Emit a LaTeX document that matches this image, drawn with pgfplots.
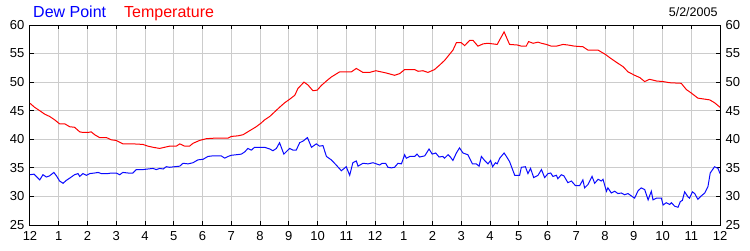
\documentclass[border=0pt]{standalone}
\usepackage{pgfplots}
\pgfplotsset{compat=1.18}
\usepackage{fontspec}
\setmainfont{Liberation Sans}
\definecolor{dp}{RGB}{10,10,255}
\definecolor{tp}{RGB}{255,0,0}
\definecolor{gridc}{RGB}{204,204,204}
\begin{document}
\begin{tikzpicture}[x=1bp,y=1bp]
\useasboundingbox (-30,-25) rectangle (720,225);
\begin{axis}[
  at={(0,0)}, anchor=south west,
  scale only axis, width=690bp, height=200bp,
  xmin=0, xmax=24, ymin=25, ymax=60,
  xtick={0,1,...,24},
  xticklabels={12,1,2,3,4,5,6,7,8,9,10,11,12,1,2,3,4,5,6,7,8,9,10,11,12},
  ytick={25,30,...,60},
  grid=major, major grid style={gridc, line width=1bp},
  axis line style={black, line width=1bp},
  major tick length=4bp, tick style={black, line width=1bp},
  tick align=inside,
  ticklabel style={font=\fontsize{13bp}{15bp}\selectfont, text=black},
  /pgf/number format/assume math mode=true,
  xticklabel style={yshift=-2.7bp},
  yticklabel style={xshift=-2.2bp},
  clip=true,
]
\addplot[tp, line width=1bp] coordinates {
(0,46.3)(0.16,45.6)(0.34,45.0)(0.51,44.4)(0.68,44.0)(0.86,43.4)(1.03,42.7)(1.21,42.7)
(1.38,42.2)(1.55,42.1)(1.73,41.3)(1.84,41.2)(2.02,41.2)(2.13,41.3)(2.25,40.8)(2.42,40.3)
(2.66,40.3)(2.83,39.9)(3.00,39.8)(3.23,39.2)(3.58,39.2)(3.93,39.1)(4.10,38.8)(4.28,38.6)
(4.51,38.4)(4.68,38.6)(4.86,38.8)(5.09,38.8)(5.21,39.2)(5.38,38.8)(5.55,38.8)(5.67,39.3)
(5.90,39.8)(6.13,40.1)(6.42,40.2)(6.89,40.2)(7.00,40.5)(7.23,40.6)(7.41,40.8)(7.64,41.5)
(7.87,42.2)(8.03,42.8)(8.16,43.4)(8.34,44.0)(8.51,44.8)(8.68,45.6)(8.86,46.4)(9.03,47.0)
(9.21,47.7)(9.32,48.9)(9.53,50.0)(9.67,49.5)(9.84,48.5)(9.99,48.6)(10.13,49.4)(10.31,50.2)
(10.48,50.9)(10.77,51.8)(11.06,51.8)(11.18,51.8)(11.35,52.4)(11.58,51.7)(11.81,51.7)(12.03,52.0)
(12.39,51.6)(12.68,51.2)(12.86,51.5)(13.03,52.2)(13.38,52.2)(13.50,51.9)(13.67,52.0)(13.84,51.7)
(14.07,52.2)(14.25,53.0)(14.42,53.8)(14.71,55.6)(14.83,56.9)(15.00,56.9)(15.12,56.4)(15.29,57.3)
(15.41,57.3)(15.58,56.3)(15.76,56.7)(15.93,56.8)(16.25,56.6)(16.49,58.8)(16.68,56.6)(16.95,56.5)
(17.09,56.3)(17.26,56.3)(17.34,57.1)(17.50,56.8)(17.67,57.0)(17.79,56.8)(17.96,56.6)(18.13,56.3)
(18.31,56.3)(18.54,56.6)(18.71,56.5)(18.94,56.3)(19.23,56.2)(19.41,55.6)(19.76,55.6)(20.03,54.8)
(20.16,54.3)(20.39,53.5)(20.63,52.7)(20.80,51.8)(21.03,51.2)(21.21,50.8)(21.38,50.1)(21.55,50.5)
(21.79,50.2)(22.02,50.1)(22.25,49.9)(22.65,49.8)(22.83,48.7)(23.00,48.1)(23.23,47.2)(23.64,46.9)
(23.81,46.4)(24.00,45.6)
};
\addplot[dp, line width=1bp] coordinates {
(0.00,33.8)(0.14,33.9)(0.22,33.5)(0.34,32.9)(0.45,33.8)(0.57,33.4)(0.68,33.6)(0.83,34.2)
(0.92,33.6)(1.03,32.7)(1.15,32.3)(1.26,32.8)(1.38,33.2)(1.55,33.8)(1.67,34.0)(1.73,33.5)
(1.84,34.0)(1.96,33.7)(2.08,34.0)(2.25,34.1)(2.37,34.2)(2.48,34.0)(2.71,34.0)(2.83,34.1)
(3.00,34.1)(3.12,33.8)(3.23,34.2)(3.41,34.1)(3.58,34.1)(3.70,34.7)(3.93,34.7)(4.10,34.8)
(4.28,34.9)(4.39,34.7)(4.51,34.9)(4.63,34.8)(4.74,35.2)(4.86,35.1)(5.03,35.2)(5.21,35.3)
(5.32,35.8)(5.50,35.7)(5.67,35.9)(5.84,36.4)(6.02,36.5)(6.19,37.0)(6.36,37.1)(6.65,37.1)
(6.77,36.7)(6.89,37.0)(7.00,37.2)(7.18,37.3)(7.35,37.4)(7.47,37.8)(7.58,38.4)(7.70,38.1)
(7.81,38.6)(7.93,38.6)(8.16,38.6)(8.34,38.3)(8.45,38.0)(8.57,38.4)(8.68,39.4)(8.83,37.4)
(9.03,38.4)(9.15,38.1)(9.26,38.1)(9.38,39.4)(9.50,39.7)(9.65,40.3)(9.79,38.6)(9.96,39.2)
(10.07,38.8)(10.19,38.9)(10.31,37.0)(10.48,36.4)(10.65,35.5)(10.83,34.5)(11.00,35.2)(11.12,33.7)
(11.23,35.9)(11.35,36.2)(11.41,35.3)(11.58,35.8)(11.76,35.7)(11.93,35.9)(12.05,35.7)(12.16,35.5)
(12.25,35.8)(12.37,35.8)(12.45,35.1)(12.57,35.0)(12.68,35.1)(12.80,35.8)(12.92,35.7)(13.03,37.3)
(13.09,36.7)(13.21,37.0)(13.38,37.0)(13.46,37.4)(13.55,36.9)(13.73,37.1)(13.88,38.3)(13.99,37.4)
(14.11,37.6)(14.23,36.9)(14.36,37.0)(14.42,36.7)(14.54,37.3)(14.62,36.9)(14.71,36.3)(14.83,37.6)
(14.94,38.5)(15.06,37.6)(15.23,37.3)(15.39,35.7)(15.52,35.7)(15.62,35.3)(15.70,37.0)(15.81,36.3)
(15.93,35.7)(16.02,36.3)(16.09,35.2)(16.19,35.9)(16.25,35.7)(16.34,36.7)(16.49,37.6)(16.57,37.0)
(16.68,36.1)(16.86,33.7)(17.03,33.7)(17.09,35.1)(17.23,35.2)(17.32,34.0)(17.41,34.9)(17.52,33.3)
(17.67,33.7)(17.79,34.7)(17.90,33.3)(18.02,34.0)(18.11,34.1)(18.19,33.5)(18.31,33.7)(18.36,33.1)
(18.48,33.8)(18.57,33.6)(18.71,32.4)(18.83,32.7)(18.97,31.9)(19.12,31.9)(19.23,32.9)(19.29,31.5)
(19.41,32.1)(19.55,33.5)(19.64,32.3)(19.76,33.0)(19.87,32.7)(19.93,33.0)(20.05,30.9)(20.10,31.5)
(20.22,30.6)(20.34,30.9)(20.45,30.5)(20.57,30.6)(20.68,30.3)(20.80,30.5)(20.97,29.9)(21.03,29.7)
(21.15,31.0)(21.26,31.5)(21.38,31.2)(21.50,29.4)(21.61,30.9)(21.67,29.4)(21.79,29.7)(21.96,29.7)
(22.02,28.5)(22.13,28.9)(22.25,28.6)(22.31,28.9)(22.42,28.3)(22.54,28.1)(22.62,29.1)(22.69,29.3)
(22.77,30.8)(22.89,29.9)(22.94,29.7)(23.04,30.8)(23.12,30.5)(23.23,29.5)(23.35,30.1)(23.47,30.6)
(23.58,31.7)(23.66,34.1)(23.81,35.2)(23.93,34.9)(24.00,34.0)
};
\end{axis}
\begin{axis}[
  at={(0,0)}, anchor=south west,
  scale only axis, width=690bp, height=200bp,
  xmin=0, xmax=24, ymin=25, ymax=60,
  axis x line=none, axis y line*=right,
  ytick={25,30,...,60},
  major tick length=0pt,
  axis line style={black, line width=1bp},
  ticklabel style={font=\fontsize{13bp}{15bp}\selectfont, text=black},
  /pgf/number format/assume math mode=true,
  yticklabel style={xshift=2.2bp},
]
\end{axis}
\node[anchor=base west, inner sep=0, text=blue, font=\fontsize{16bp}{18bp}\selectfont] at (3,207.3) {Dew Point};
\node[anchor=base west, inner sep=0, text=red, font=\fontsize{16bp}{18bp}\selectfont] at (94,207.3) {Temperature};
\node[anchor=base east, inner sep=0, text=black, font=\fontsize{12.5bp}{14bp}\selectfont] at (687.7,208.3) {5/2/2005};
\end{tikzpicture}
\end{document}
